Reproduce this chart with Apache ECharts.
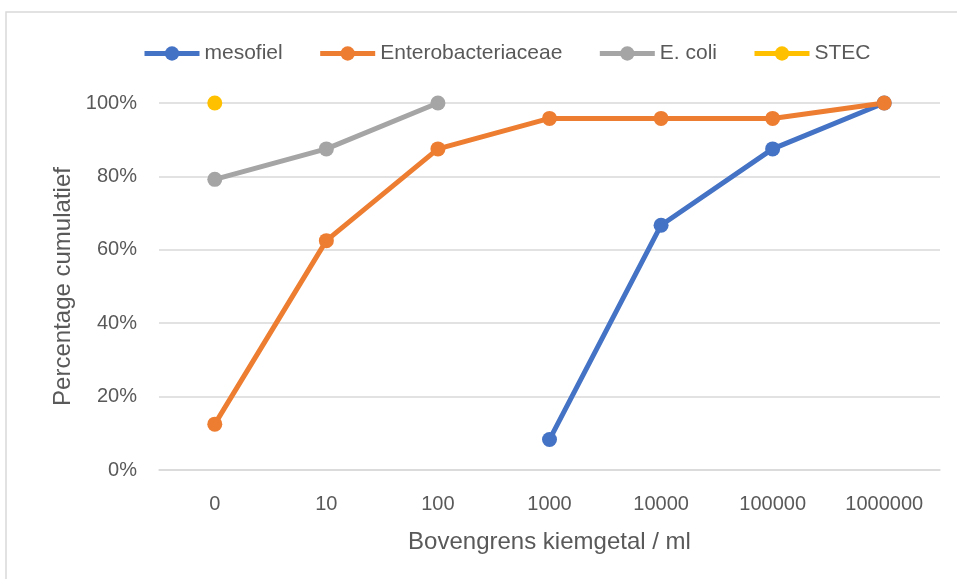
<!DOCTYPE html>
<html>
<head>
<meta charset="utf-8">
<script src="https://cdn.jsdelivr.net/npm/echarts@6/dist/echarts.min.js"></script>
<style>
  html, body { margin: 0; padding: 0; background: #fff; }
  #chart { width: 957px; height: 579px; }
</style>
</head>
<body>
<div id="chart"></div>
<script>
// Upper bound of the colony count per ml (category axis)
const categories = ['0', '10', '100', '1000', '10000', '100000', '1000000'];
// Cumulative percentage of samples at or below each bound
const mesofiel = [null, null, null, 8.3, 66.7, 87.5, 100];
const enterobacteriaceae = [12.5, 62.5, 87.5, 95.8, 95.8, 95.8, 100];
const eColi = [79.2, 87.5, 100, null, null, null, null];
const stec = [100, null, null, null, null, null, null];
const yTicks = [0, 20, 40, 60, 80, 100];

const FONT = '"Liberation Sans", Arial, sans-serif';
const TEXT = '#595959';

function lineSeries(name, data, color) {
  return {
    name: name,
    type: 'line',
    data: data,
    connectNulls: false,
    symbol: 'circle',
    symbolSize: 15,
    lineStyle: { width: 5, color: color },
    itemStyle: { color: color },
    emphasis: { disabled: true },
    z: 3
  };
}

const chart = echarts.init(document.getElementById('chart'), null, { renderer: 'canvas' });
chart.setOption({
  animation: false,
  backgroundColor: '#ffffff',
  graphic: [{
    type: 'rect',
    shape: { x: 6, y: 12, width: 1000, height: 600 },
    style: { fill: 'none', stroke: '#d9d9d9', lineWidth: 1.5 },
    silent: true
  }],
  legend: {
    top: 43,
    left: 142,
    padding: 0,
    itemWidth: 55,
    itemHeight: 18,
    itemGap: 35,
    lineStyle: { width: 5 },
    textStyle: { fontFamily: FONT, fontSize: 21, color: TEXT },
    data: ['mesofiel', 'Enterobacteriaceae', 'E. coli', 'STEC']
  },
  grid: { left: 159, right: 17, top: 103, bottom: 109, containLabel: false },
  xAxis: {
    type: 'category',
    data: categories,
    boundaryGap: true,
    name: 'Bovengrens kiemgetal / ml',
    nameLocation: 'middle',
    nameGap: 60,
    nameTextStyle: { fontFamily: FONT, fontSize: 24, color: TEXT },
    axisLine: { show: true, lineStyle: { color: '#d9d9d9', width: 1.5 } },
    axisTick: { show: false },
    axisLabel: { fontFamily: FONT, fontSize: 20, color: TEXT, margin: 24 }
  },
  yAxis: {
    type: 'value',
    min: 0,
    max: 100,
    interval: 20,
    name: 'Percentage cumulatief',
    nameLocation: 'middle',
    nameGap: 82,
    nameTextStyle: { fontFamily: FONT, fontSize: 24, color: TEXT },
    axisLine: { show: false },
    axisTick: { show: false },
    splitLine: { lineStyle: { color: '#d9d9d9', width: 1.5 } },
    axisLabel: {
      fontFamily: FONT, fontSize: 20, color: TEXT, margin: 22,
      formatter: function (v) { return yTicks.indexOf(v) >= 0 ? v + '%' : ''; }
    }
  },
  series: [
    lineSeries('mesofiel', mesofiel, '#4472c4'),
    lineSeries('Enterobacteriaceae', enterobacteriaceae, '#ed7d31'),
    lineSeries('E. coli', eColi, '#a5a5a5'),
    lineSeries('STEC', stec, '#ffc000')
  ]
});
</script>
</body>
</html>
